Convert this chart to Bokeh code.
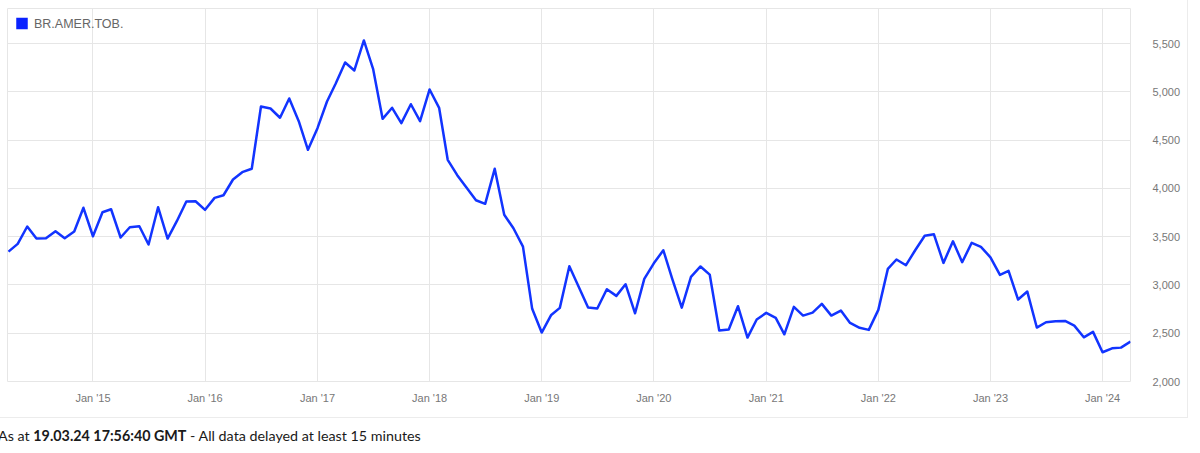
import pandas as pd
from bokeh.plotting import figure
from bokeh.models import Range1d, FixedTicker, NumeralTickFormatter, Label, Div
from bokeh.layouts import column
from bokeh.embed import file_html
from bokeh.resources import INLINE

# Monthly closing prices (GBp), April 2014 to April 2024
series_name = "BR.AMER.TOB."
first_month = "2014-04-01"
prices = [
    3346, 3426, 3606, 3481, 3484, 3557, 3484, 3554, 3800,
    3505, 3754, 3785, 3492, 3598, 3609, 3419, 3806, 3481, 3661, 3865, 3868, 3779, 3903, 3930,
    4093, 4169, 4204, 4850, 4829, 4733, 4933, 4697, 4401, 4625, 4901, 5085,
    5306, 5223, 5534, 5240, 4722, 4836, 4677, 4873, 4697, 5026, 4836, 4297,
    4138, 4010, 3878, 3841, 4204, 3727, 3588, 3398, 2753, 2507, 2690, 2763,
    3194, 2984, 2766, 2756, 2956, 2887, 3008, 2707, 3064, 3225, 3360, 3064,
    2765, 3084, 3192, 3108, 2528, 2538, 2780, 2455, 2642, 2711, 2659, 2489,
    2773, 2683, 2714, 2804, 2683, 2735, 2607, 2556, 2535, 2742, 3167, 3264,
    3205, 3360, 3510, 3525, 3229, 3453, 3236, 3437, 3395, 3287, 3105, 3146,
    2849, 2932, 2559, 2614, 2624, 2628, 2579, 2458, 2514,
    2303, 2344, 2351, 2414,
]
year_ticks = ["2015-01-01", "2016-01-01", "2017-01-01", "2018-01-01", "2019-01-01",
              "2020-01-01", "2021-01-01", "2022-01-01", "2023-01-01", "2024-01-01"]
year_labels = ["Jan '15", "Jan '16", "Jan '17", "Jan '18", "Jan '19",
               "Jan '20", "Jan '21", "Jan '22", "Jan '23", "Jan '24"]
price_ticks = [2000, 2500, 3000, 3500, 4000, 4500, 5000, 5500]

LINE_BLUE = "#1234ff"
GRID = "#e6e6e6"
LABEL_GREY = "#777777"


def to_ms(ts):
    return pd.Timestamp(ts).value / 1e6


dates = pd.date_range(first_month, periods=len(prices), freq="MS")
x_ms = [to_ms(d) for d in dates]
tick_ms = [to_ms(t) for t in year_ticks]

x_start = to_ms("2014-03-28 18:00")
x_end = x_ms[-1]
y_start, y_end = 2000, 5865

FRAME_L, FRAME_T, FRAME_W, FRAME_H = 7, 8, 1123, 373

p = figure(
    width=1188, height=418,
    output_backend="svg", toolbar_location=None,
    x_range=Range1d(x_start, x_end), y_range=Range1d(y_start, y_end),
    y_axis_location="right",
    min_border_left=FRAME_L, min_border_top=FRAME_T,
    min_border_right=1188 - FRAME_L - FRAME_W, min_border_bottom=418 - FRAME_T - FRAME_H,
    background_fill_color="white", border_fill_color="white",
)
p.outline_line_color = GRID
p.styles = {"border-right": "1px solid #ececec", "border-bottom": "1px solid #ececec"}

# x axis: yearly ticks labelled "Jan 'yy"
p.xaxis.ticker = FixedTicker(ticks=tick_ms)
p.xaxis.major_label_overrides = {t: lab for t, lab in zip(tick_ms, year_labels)}
p.xaxis.axis_line_color = None
p.xaxis.major_tick_line_color = None
p.xaxis.minor_tick_line_color = None
p.xaxis.major_label_standoff = 4
p.xaxis.major_label_text_font = "Liberation Sans"
p.xaxis.major_label_text_font_size = "11px"
p.xaxis.major_label_text_color = LABEL_GREY

# y axis on the right
p.yaxis.ticker = FixedTicker(ticks=price_ticks)
p.yaxis.formatter = NumeralTickFormatter(format="0,0")
p.yaxis.axis_line_color = None
p.yaxis.major_tick_line_color = None
p.yaxis.minor_tick_line_color = None
p.yaxis.major_label_standoff = 16
p.yaxis.major_label_text_font = "Liberation Sans"
p.yaxis.major_label_text_font_size = "11px"
p.yaxis.major_label_text_color = LABEL_GREY

p.xgrid.grid_line_color = GRID
p.ygrid.grid_line_color = GRID
p.xgrid.grid_line_width = 1
p.ygrid.grid_line_width = 1

p.line(x_ms, prices, line_color=LINE_BLUE, line_width=2.5, line_join="round")


# legend swatch and name in the top-left corner of the plot area
def px_x(px):
    return x_start + (px - FRAME_L) / FRAME_W * (x_end - x_start)


def px_y(py):
    return y_end - (py - FRAME_T) / FRAME_H * (y_end - y_start)


p.rect(x=[px_x(21.5)], y=[px_y(23)], width=11.5, height=11.5,
       width_units="screen", height_units="screen",
       fill_color="#0a22ff", line_color=None)
p.add_layout(Label(x=px_x(33.5), y=px_y(23.5), text=series_name,
                   text_baseline="middle", text_align="left",
                   text_font="Liberation Sans", text_font_size="12.5px",
                   text_color="#666666"))

footer = Div(
    text='As at <b>19.03.24 17:56:40 GMT</b> - All data delayed at least 15 minutes',
    width=1200, height=34, margin=0,
    styles={"font-family": "Lato, sans-serif", "font-size": "14.3px", "color": "#1a1a1a",
            "padding-top": "9px", "margin-left": "-2px", "line-height": "17px"},
)

layout = column(p, footer, spacing=0)
open("out.html", "w").write(file_html(layout, INLINE))
